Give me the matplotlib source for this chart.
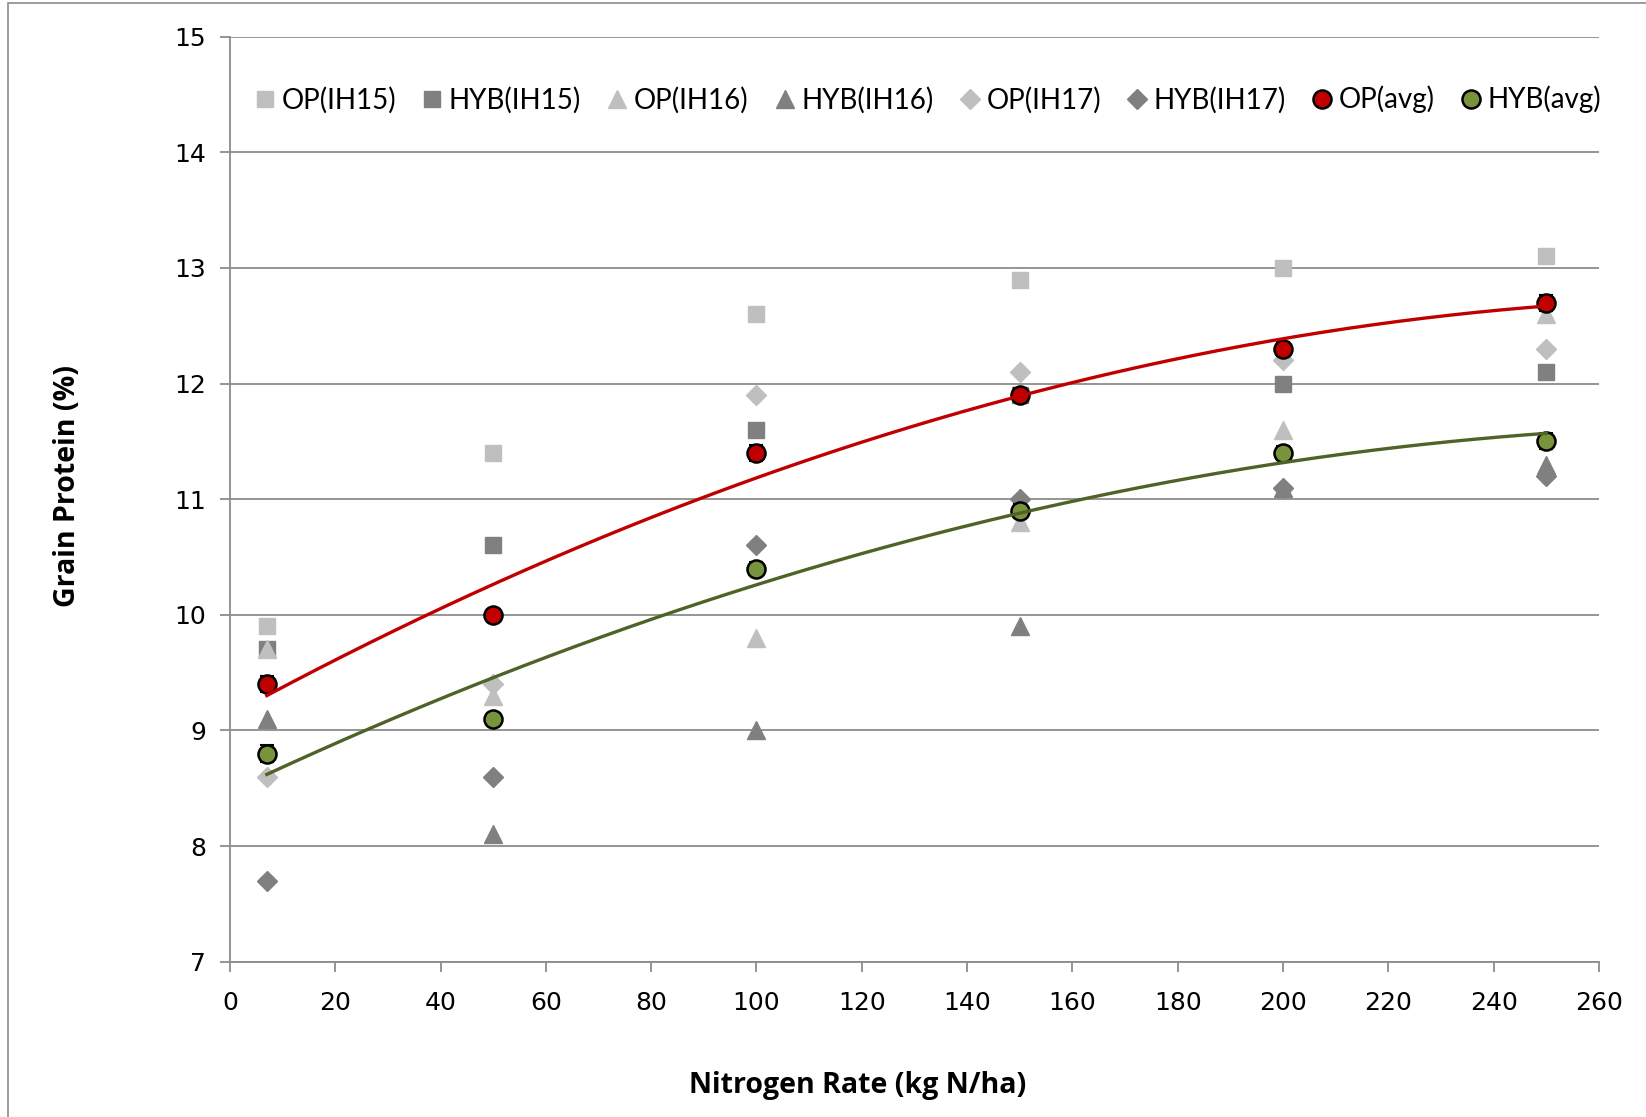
import numpy as np
import matplotlib
matplotlib.use('Agg')
import matplotlib.pyplot as plt
from matplotlib.patches import Rectangle

# ===== DATA =====
n_rate = [7, 50, 100, 150, 200, 250]

op_ih15 = [9.9, 11.4, 12.6, 12.9, 13.0, 13.1]
hyb_ih15 = [9.7, 10.6, 11.6, 11.9, 12.0, 12.1]
op_ih16 = [9.7, 9.3, 9.8, 10.8, 11.6, 12.6]
hyb_ih16 = [9.1, 8.1, 9.0, 9.9, 11.1, 11.3]
op_ih17 = [8.6, 9.4, 11.9, 12.1, 12.2, 12.3]
hyb_ih17 = [7.7, 8.6, 10.6, 11.0, 11.1, 11.2]
op_avg = [9.4, 10.0, 11.4, 11.9, 12.3, 12.7]
hyb_avg = [8.8, 9.1, 10.4, 10.9, 11.4, 11.5]
op_err = [0.07, 0.04, 0.07, 0.06, 0.06, 0.07]
hyb_err = [0.07, 0.04, 0.06, 0.06, 0.06, 0.07]

LIGHT = '#BFBFBF'
DARK = '#808080'
RED = '#C00000'
GREEN = '#77933C'

TEXT_FONT = ['Lato', 'DejaVu Sans']
LABEL_FONT = ['Open Sans', 'DejaVu Sans']

# ===== FIGURE =====
fig = plt.figure(figsize=(16.46, 11.17), dpi=100)
ax = fig.add_axes([0.1397, 0.1391, 0.8317, 0.828])

# outer chart frame
fig.patches.append(Rectangle((8 / 1646, -0.1), 1.2, 1.1 - 3 / 1117,
                             transform=fig.transFigure, fill=False,
                             edgecolor='#8C8C8C', linewidth=1.2))

ms = 11.5
ax.plot(n_rate, op_ih15, 's', color=LIGHT, ms=ms, label='OP(IH15)', zorder=3)
ax.plot(n_rate, hyb_ih15, 's', color=DARK, ms=ms, label='HYB(IH15)', zorder=3)
ax.plot(n_rate, op_ih16, '^', color=LIGHT, ms=ms + 1.5, label='OP(IH16)', zorder=3)
ax.plot(n_rate, hyb_ih16, '^', color=DARK, ms=ms + 1.5, label='HYB(IH16)', zorder=3)
ax.plot(n_rate, op_ih17, 'D', color=LIGHT, ms=ms - 1, label='OP(IH17)', zorder=3)
ax.plot(n_rate, hyb_ih17, 'D', color=DARK, ms=ms - 1, label='HYB(IH17)', zorder=3)

# small error bars behind the average markers
ax.errorbar(n_rate, op_avg, yerr=op_err, fmt='none', ecolor='black',
            elinewidth=1.2, capsize=5, capthick=1.5, zorder=3.5)
ax.errorbar(n_rate, hyb_avg, yerr=hyb_err, fmt='none', ecolor='black',
            elinewidth=1.2, capsize=5, capthick=1.5, zorder=3.5)
ax.plot(n_rate, op_avg, 'o', mfc=RED, mec='black', mew=1.8, ms=13,
        label='OP(avg)', zorder=4)
ax.plot(n_rate, hyb_avg, 'o', mfc=GREEN, mec='black', mew=1.8, ms=13,
        label='HYB(avg)', zorder=4)

# polynomial (order 2) trend lines
xs = np.linspace(min(n_rate), max(n_rate), 200)
for vals, col in [(op_avg, RED), (hyb_avg, '#4F6228')]:
    c = np.polyfit(n_rate, vals, 2)
    ax.plot(xs, np.polyval(c, xs), color=col, lw=2.4, zorder=5)

# ===== AXES =====
ax.set_xlim(0, 260)
ax.set_ylim(7, 15)
ax.set_xticks(np.arange(0, 261, 20))
ax.set_yticks(np.arange(7, 16, 1))
ax.grid(axis='y', color='#8C8C8C', linewidth=1.3)
ax.set_axisbelow(True)
for s in ['top', 'right']:
    ax.spines[s].set_visible(False)
for s in ['left', 'bottom']:
    ax.spines[s].set_color('#8C8C8C')
    ax.spines[s].set_linewidth(1.3)
ax.tick_params(direction='out', length=7, width=1.3, color='#8C8C8C',
               labelsize=18, labelcolor='black')
ax.tick_params(axis='x', pad=14)
ax.tick_params(axis='y', pad=10)

ax.set_xlabel('Nitrogen Rate (kg N/ha)', family=LABEL_FONT, fontsize=20.5,
              fontweight='bold')
ax.set_ylabel('Grain Protein (%)', family=LABEL_FONT, fontsize=20.5,
              fontweight='bold')
ax.xaxis.set_label_coords(0.4585, -0.118)
ax.yaxis.set_label_coords(-0.108, 0.514)

handles, labels = ax.get_legend_handles_labels()
leg = ax.legend(handles, labels, ncol=8, loc='center', bbox_to_anchor=(0.508, 0.932),
                frameon=False, handletextpad=0.05, columnspacing=0.75,
                handlelength=1.1, prop={'family': TEXT_FONT, 'size': 20})

fig.savefig('out.png', dpi=100)
